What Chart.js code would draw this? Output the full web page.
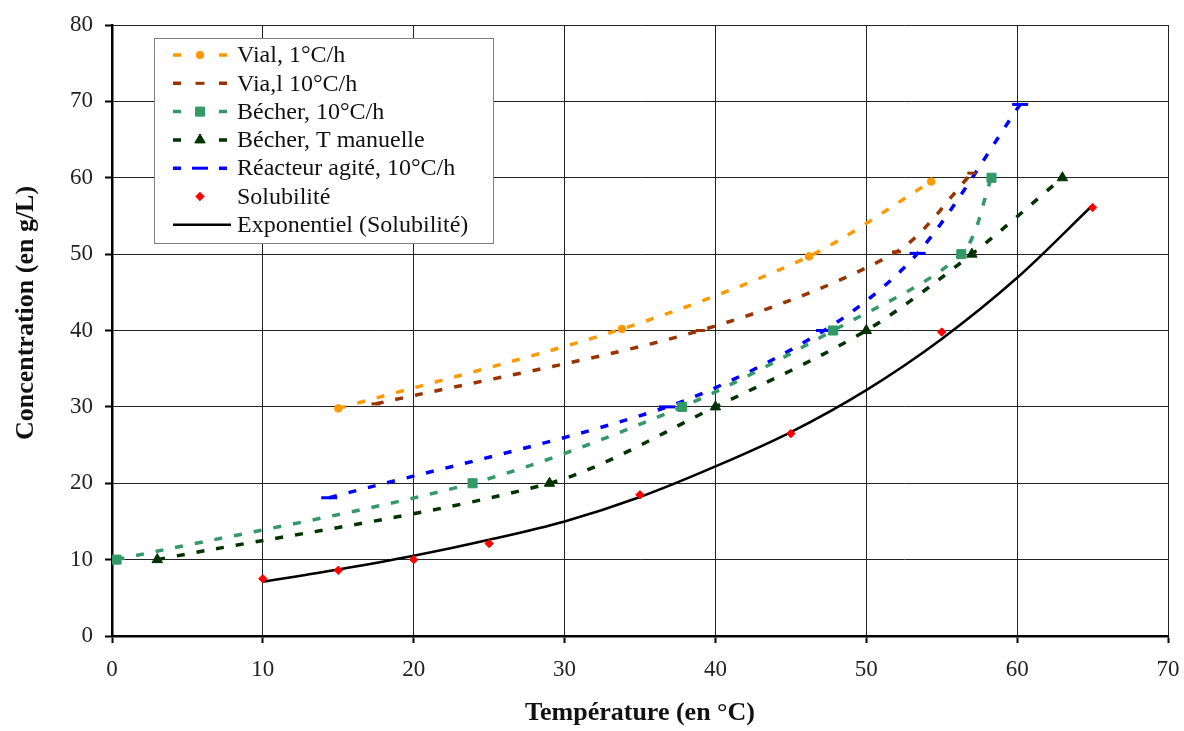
<!DOCTYPE html>
<html>
<head>
<meta charset="utf-8">
<script src="https://cdn.jsdelivr.net/npm/chart.js@4.4.1/dist/chart.umd.min.js"></script>
<style>
  html, body { margin:0; padding:0; background:#fff; }
  #wrap { width:1184px; height:731px; }
</style>
</head>
<body>
<div id="wrap"><canvas id="chartSol" width="1184" height="731"></canvas></div>
<script>
// --- valeurs ---
const vial1X    = [15, 33.8, 46.2, 54.3];
const vial1Y    = [29.8, 40.2, 49.7, 59.5];
const vial10X   = [17.5, 39, 52, 57];
const vial10Y   = [30.4, 40, 50.3, 60.6];
const becher10X = [0.3, 23.9, 37.8, 47.8, 56.3, 58.3];
const becher10Y = [10, 20, 30, 40, 50, 60];
const manuelX   = [3, 29, 40, 50, 57, 63];
const manuelY   = [10, 20, 30, 40, 50, 60];
const reactX    = [14.4, 36.8, 47.2, 53.4, 60.2];
const reactY    = [18.1, 30, 40, 50.1, 69.6];
const solX      = [10, 15, 20, 25, 35, 45, 55, 65];
const solY      = [7.5, 8.6, 10, 12.1, 18.5, 26.5, 39.8, 56.1];
const expoX     = [10, 15, 20, 25, 30, 35, 40, 45, 50, 55, 60, 65];
const expoY     = [7.1, 8.7, 10.5, 12.6, 15.0, 18.2, 22.2, 26.7, 32.2, 38.9, 46.9, 56.4];
const xTicks    = [0, 10, 20, 30, 40, 50, 60, 70];
const yTicks    = [0, 10, 20, 30, 40, 50, 60, 70, 80];

const FONT = '"Liberation Serif", "Times New Roman", serif';
const pts = (xs, ys) => xs.map((x, i) => ({x: x, y: ys[i]}));

function serie(label, xs, ys, color, style, radius, extra) {
  return Object.assign({
    label: label, data: pts(xs, ys), showLine: true,
    borderColor: color, backgroundColor: color, borderWidth: 3.5, borderDash: [8, 12],
    tension: 0.3, pointStyle: style, pointRadius: radius,
    pointBackgroundColor: color, pointBorderColor: color, pointBorderWidth: 1
  }, extra || {});
}

const datasets = [
  serie('Vial, 1°C/h', vial1X, vial1Y, '#FF9900', 'circle', 3.8),
  serie('Via,l 10°C/h', vial10X, vial10Y, '#993300', 'line', 4.5, {pointBorderWidth: 3}),
  serie('Bécher, 10°C/h', becher10X, becher10Y, '#339966', 'rect', 6.4),
  serie('Bécher, T manuelle', manuelX, manuelY, '#003300', 'triangle', 6),
  serie('Réacteur agité, 10°C/h', reactX, reactY, '#0000FF', 'line', 8, {pointBorderWidth: 3}),
  {label: 'Solubilité', data: pts(solX, solY), showLine: false, pointStyle: 'rectRot', pointRadius: 4.2,
   pointBackgroundColor: '#FF0000', pointBorderColor: '#FF0000', borderColor: '#FF0000', pointBorderWidth: 1},
  {label: 'Exponentiel (Solubilité)', data: pts(expoX, expoY), showLine: true, borderColor: '#000',
   borderWidth: 2.5, pointRadius: 0, tension: 0.4, cubicInterpolationMode: 'monotone'}
];

// legende encadree dans la zone du graphique
const boxLegend = {
  id: 'boxLegend',
  afterDraw(chart) {
    const ctx = chart.ctx;
    const bx = 154, by = 38, bw = 339, bh = 205;
    ctx.save();
    ctx.fillStyle = '#fff';
    ctx.fillRect(bx, by, bw, bh);
    ctx.strokeStyle = '#808080';
    ctx.lineWidth = 1;
    ctx.strokeRect(bx + 0.5, by + 0.5, bw, bh);
    chart.data.datasets.forEach((ds, i) => {
      const y = 55 + i * 28.3;
      const c = ds.borderColor;
      if (ds.showLine) {
        ctx.strokeStyle = c;
        ctx.lineWidth = ds.borderWidth;
        ctx.setLineDash([]);
        ctx.beginPath();
        if (ds.borderDash) {
          ctx.moveTo(173, y); ctx.lineTo(181, y);
          ctx.moveTo(219, y); ctx.lineTo(227, y);
        } else {
          ctx.moveTo(173, y); ctx.lineTo(231, y);
        }
        ctx.stroke();
      }
      if (ds.pointRadius > 0) {
        ctx.fillStyle = ds.pointBackgroundColor;
        ctx.strokeStyle = ds.pointBorderColor;
        ctx.lineWidth = ds.pointBorderWidth;
        Chart.helpers.drawPoint(ctx, {pointStyle: ds.pointStyle, radius: ds.pointRadius,
          rotation: 0, borderWidth: ds.pointBorderWidth}, 200, y);
      }
      ctx.fillStyle = '#111';
      ctx.font = '24px ' + FONT;
      ctx.textBaseline = 'middle';
      ctx.textAlign = 'left';
      ctx.fillText(ds.label, 237, y + 1);
    });
    ctx.restore();
  }
};

// titre de l'axe Y place comme dans l'original
const yTitle = {
  id: 'yTitle',
  afterDraw(chart) {
    const ctx = chart.ctx;
    ctx.save();
    ctx.translate(26, 313);
    ctx.rotate(-Math.PI / 2);
    ctx.font = 'bold 26px ' + FONT;
    ctx.fillStyle = '#111';
    ctx.textAlign = 'center';
    ctx.textBaseline = 'middle';
    ctx.fillText('Concentration (en g/L)', 0, 0);
    ctx.restore();
  }
};

new Chart(document.getElementById('chartSol'), {
  type: 'scatter',
  data: {datasets: datasets},
  plugins: [boxLegend, yTitle],
  options: {
    responsive: false, animation: false, devicePixelRatio: 1,
    layout: {padding: {left: 0, top: 25, right: 16, bottom: 0}},
    plugins: {legend: {display: false}, tooltip: {enabled: false}},
    scales: {
      x: {
        type: 'linear', min: 0, max: 70,
        afterBuildTicks: s => { s.ticks = xTicks.map(v => ({value: v})); },
        afterFit: s => { s.height = 95; s.paddingRight = 0; s.paddingLeft = 0; },
        grid: {color: '#222', lineWidth: 1, tickLength: 7, tickColor: '#000', tickWidth: 2},
        border: {color: '#000', width: 2.5},
        ticks: {color: '#222', font: {family: FONT, size: 23}, padding: 13, maxRotation: 0},
        title: {display: true, text: 'Température (en °C)', color: '#111',
                font: {family: FONT, size: 26, weight: 'bold'}, padding: {top: 0, bottom: 2}}
      },
      y: {
        type: 'linear', min: 0, max: 80,
        afterBuildTicks: s => { s.ticks = yTicks.map(v => ({value: v})); },
        afterFit: s => { s.width = 112; s.paddingTop = 0; s.paddingBottom = 0; },
        grid: {color: '#222', lineWidth: 1, tickLength: 7, tickColor: '#000', tickWidth: 2},
        border: {color: '#000', width: 2.5},
        ticks: {color: '#222', font: {family: FONT, size: 23}, padding: 12},
        title: {display: false}
      }
    }
  }
});
</script>
</body>
</html>
